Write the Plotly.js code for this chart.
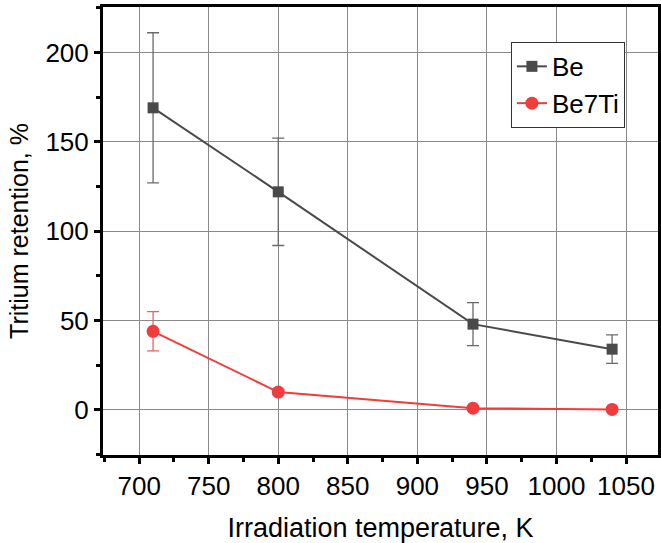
<!DOCTYPE html>
<html><head><meta charset="utf-8">
<script src="https://cdn.plot.ly/plotly-3.0.1.min.js"></script>
<style>body{margin:0;background:#fff}#c{width:661px;height:543px}</style>
</head><body><div id="c"></div>
<script>
var temps = [710, 800, 940, 1040];
var beVals = [169, 122, 48, 34];
var beErr = [42, 30, 12, 8];
var tiVals = [44, 10, 1, 0.3];
var tiErr = [11, 1.5, 0.5, 0.3];
var xTicks = [700, 750, 800, 850, 900, 950, 1000, 1050];
var yTicks = [0, 50, 100, 150, 200];

var traces = [
  {x: temps, y: beVals, name: 'Be', type: 'scatter', mode: 'lines+markers',
   line: {color: '#4a4a4a', width: 2}, marker: {symbol: 'square', size: 11, color: '#4a4a4a'},
   error_y: {type: 'data', array: beErr, visible: true, color: '#6a6a6a', thickness: 1.3, width: 6}},
  {x: temps, y: tiVals, name: 'Be7Ti', type: 'scatter', mode: 'lines+markers',
   line: {color: '#f03c3c', width: 2}, marker: {symbol: 'circle', size: 13, color: '#f03c3c'},
   error_y: {type: 'data', array: tiErr, visible: true, color: '#f06060', thickness: 1.3, width: 6}}
];
var fam = 'Liberation Sans, Arial, sans-serif';
var layout = {
  width: 661, height: 543,
  margin: {l: 103, r: 3, t: 7, b: 88},
  paper_bgcolor: '#fff', plot_bgcolor: '#fff',
  font: {family: fam, color: '#000', size: 25},
  showlegend: true,
  legend: {x: 0.735, y: 0.922, xanchor: 'left', yanchor: 'top', bgcolor: '#fff',
    bordercolor: '#333', borderwidth: 1, font: {family: fam, size: 26, color: '#000'},
    tracegroupgap: 0},
  xaxis: {range: [674, 1073], tickvals: xTicks, ticktext: xTicks.map(String),
    showline: true, linewidth: 3, linecolor: '#000', mirror: true,
    ticks: 'outside', ticklen: 6, tickwidth: 3, tickcolor: '#000',
    showgrid: true, gridcolor: '#8a8a8a', gridwidth: 1, zeroline: false,
    minor: {dtick: 25, tick0: 0, ticks: 'outside', ticklen: 4, tickwidth: 3, tickcolor: '#000', showgrid: false},
    tickfont: {family: fam, size: 26, color: '#000'},
    title: {text: 'Irradiation temperature, K', font: {family: fam, size: 27, color: '#000'}, standoff: 18}},
  yaxis: {range: [-25.2, 225.4], tickvals: yTicks, ticktext: yTicks.map(String),
    showline: true, linewidth: 3, linecolor: '#000', mirror: true,
    ticks: 'outside', ticklen: 6, tickwidth: 3, tickcolor: '#000',
    showgrid: true, gridcolor: '#8a8a8a', gridwidth: 1, zeroline: false,
    minor: {dtick: 25, tick0: 0, ticks: 'outside', ticklen: 4, tickwidth: 3, tickcolor: '#000', showgrid: false},
    tickfont: {family: fam, size: 26, color: '#000'},
    title: {text: 'Tritium retention, %', font: {family: fam, size: 25, color: '#000'}, standoff: 10}}
};
Plotly.newPlot('c', traces, layout, {displayModeBar: false, staticPlot: true});
</script></body></html>
